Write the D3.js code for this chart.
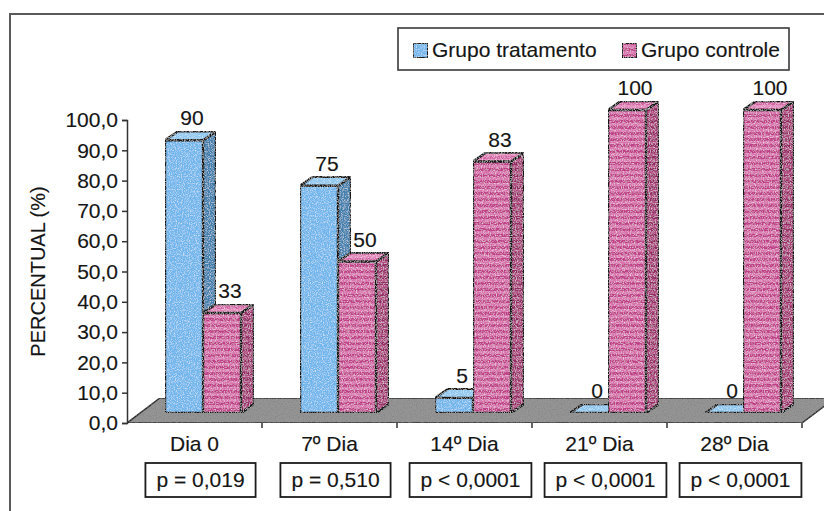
<!DOCTYPE html>
<html>
<head>
<meta charset="utf-8">
<script src="https://cdn.jsdelivr.net/npm/d3@7"></script>
<style>
  html, body { margin: 0; padding: 0; background: #fff; }
  svg { display: block; }
  text { font-family: Arial, "Liberation Sans", sans-serif; fill: #151515; stroke: #151515; stroke-width: 0.15px; }
</style>
</head>
<body>
<svg id="chart" width="824" height="511"></svg>
<script>
// Percent of patients per evaluation day, by group
const categories = ["Dia 0", "7º Dia", "14º Dia", "21º Dia", "28º Dia"];
const tratamento = [90, 75, 5, 0, 0];
const controle = [33, 50, 83, 100, 100];
const pValues = ["p = 0,019", "p = 0,510", "p < 0,0001", "p < 0,0001", "p < 0,0001"];
const seriesNames = ["Grupo tratamento", "Grupo controle"];
const yTicks = [0, 10, 20, 30, 40, 50, 60, 70, 80, 90, 100];

const W = 824, H = 511;
const FS = 21;
const svg = d3.select("#chart");

// ---- defs: grain filters, stripe patterns ----
const defs = svg.append("defs");
function grainFilter(id, tone, seed, gain, bias) {
  const f = defs.append("filter").attr("id", id)
    .attr("x", 0).attr("y", 0).attr("width", 1).attr("height", 1);
  f.append("feTurbulence").attr("type", "fractalNoise")
    .attr("baseFrequency", 0.85).attr("numOctaves", 2).attr("seed", seed).attr("result", "noise");
  f.append("feColorMatrix").attr("in", "noise").attr("type", "matrix")
    .attr("values", `0 0 0 0 ${tone}  0 0 0 0 ${tone}  0 0 0 0 ${tone}  ${gain} 0 0 0 ${bias}`)
    .attr("result", "specks");
  f.append("feComposite").attr("in", "specks").attr("in2", "SourceAlpha")
    .attr("operator", "in").attr("result", "specksIn");
  const m = f.append("feMerge");
  m.append("feMergeNode").attr("in", "SourceGraphic");
  m.append("feMergeNode").attr("in", "specksIn");
}
grainFilter("grain", 1, 4, 1.4, -0.62);
grainFilter("darkGrain", 0.2, 9, 1.6, -0.68);

function stripes(id, a, b) {
  const p = defs.append("pattern").attr("id", id)
    .attr("patternUnits", "userSpaceOnUse").attr("width", 8).attr("height", 6);
  p.append("rect").attr("width", 8).attr("height", 6).attr("fill", a);
  p.append("rect").attr("y", 3).attr("width", 8).attr("height", 3).attr("fill", b);
}
stripes("pinkFront", "#bf3f88", "#d772ad");
stripes("pinkSide", "#952a66", "#b04882");
stripes("pinkTop", "#d463a5", "#e287bb");

const styles = [
  { front: "#6fb5ec", side: "#3f7fae", top: "#8fc7ef", filter: "url(#grain)" },
  { front: "url(#pinkFront)", side: "url(#pinkSide)", top: "url(#pinkTop)", filter: "url(#grain)" }
];

// ---- scales ----
const plotLeft = 127, plotRight = 802, baseY = 423, topY = 120;
const x = d3.scaleBand().domain(categories).range([plotLeft, plotRight]).paddingInner(0).paddingOuter(0);
const y = d3.scaleLinear().domain([0, 100]).range([baseY, topY]);

// oblique projection offsets
const floorDepth = { dx: 33, dy: -25 };
const barFront = { dx: 13, dy: -10 };
const barDepth = { dx: 13, dy: -9 };
const barW = 38;
const groupInset = 25;

// ---- outer frame ----
svg.append("path")
  .attr("d", `M10,${H} L10,14 L${W},14`)
  .attr("fill", "none").attr("stroke", "#5a5a5a").attr("stroke-width", 2);

// ---- floor ----
svg.append("path")
  .attr("d", `M${plotLeft},${baseY} L${plotRight},${baseY} L${plotRight + floorDepth.dx},${baseY + floorDepth.dy} L${plotLeft + floorDepth.dx},${baseY + floorDepth.dy} Z`)
  .attr("fill", "#959595").attr("filter", "url(#darkGrain)")
  .attr("stroke", "#2a2a2a").attr("stroke-width", 1.5).attr("stroke-linejoin", "round");

// ---- y axis ----
const fmt = v => d3.format(".1f")(v).replace(".", ",");
const yAxis = d3.axisLeft(y).tickValues(yTicks).tickFormat(fmt).tickSize(5).tickPadding(4);
const gy = svg.append("g").attr("transform", `translate(${plotLeft},0)`).call(yAxis);
gy.select(".domain").attr("stroke", "#333").attr("stroke-width", 1.5);
gy.selectAll(".tick line").attr("stroke", "#333").attr("stroke-width", 1.5);
gy.selectAll(".tick text").attr("font-size", FS).attr("fill", "#151515")
  .attr("font-family", "Arial, 'Liberation Sans', sans-serif");

svg.append("text")
  .attr("transform", `translate(45,${(topY + baseY) / 2}) rotate(-90)`)
  .attr("text-anchor", "middle").attr("font-size", 20)
  .text("PERCENTUAL (%)");

// ---- category axis ----
const xAxis = d3.axisBottom(x).tickSize(0).tickPadding(13);
const gx = svg.append("g").attr("transform", `translate(0,${baseY})`).call(xAxis);
gx.select(".domain").remove();
gx.selectAll(".tick text").attr("font-size", FS).attr("fill", "#151515")
  .attr("font-family", "Arial, 'Liberation Sans', sans-serif");
// category separators
svg.append("g").selectAll("line")
  .data(categories)
  .join("line")
  .attr("x1", d => x(d) + x.bandwidth())
  .attr("x2", d => x(d) + x.bandwidth())
  .attr("y1", baseY).attr("y2", baseY + 5)
  .attr("stroke", "#333").attr("stroke-width", 1.5);

// ---- bars ----
const series = [tratamento, controle];
const barsG = svg.append("g");
categories.forEach((cat, ci) => {
  series.forEach((vals, si) => {
    const v = vals[ci];
    const st = styles[si];
    const x0 = x(cat) + groupInset + barFront.dx + si * barW;
    const x1 = x0 + barW;
    const yb = y(0) + barFront.dy;
    const yt = y(v) + barFront.dy;
    const g = barsG.append("g")
      .attr("stroke", "#161616").attr("stroke-width", 2.4).attr("stroke-linejoin", "round");
    // side face
    g.append("path")
      .attr("d", `M${x1},${yb} L${x1 + barDepth.dx},${yb + barDepth.dy} L${x1 + barDepth.dx},${yt + barDepth.dy} L${x1},${yt} Z`)
      .attr("fill", st.side).attr("filter", st.filter);
    // top face
    g.append("path")
      .attr("d", `M${x0},${yt} L${x0 + barDepth.dx},${yt + barDepth.dy} L${x1 + barDepth.dx},${yt + barDepth.dy} L${x1},${yt} Z`)
      .attr("fill", st.top).attr("filter", st.filter);
    // front face
    if (yb - yt > 0) {
      g.append("rect")
        .attr("x", x0).attr("y", yt).attr("width", barW).attr("height", yb - yt)
        .attr("fill", st.front).attr("filter", st.filter);
    }
    // value label
    svg.append("text")
      .attr("x", x0 + barW / 2 + 8)
      .attr("y", yt + barDepth.dy - 6)
      .attr("text-anchor", "middle").attr("font-size", FS)
      .text(d3.format("d")(v));
  });
});

// ---- p-value boxes ----
const pG = svg.append("g");
categories.forEach((cat, ci) => {
  const cx = x(cat) + x.bandwidth() / 2 + 6;
  const t = pG.append("text")
    .attr("x", cx).attr("y", 487)
    .attr("text-anchor", "middle").attr("font-size", FS)
    .text(pValues[ci]);
  const w = t.node().getComputedTextLength() + 22;
  pG.insert("rect", "text")
    .attr("x", cx - w / 2).attr("y", 463).attr("width", w).attr("height", 34)
    .attr("fill", "#fff").attr("stroke", "#1c1c1c").attr("stroke-width", 1.8);
});

// ---- legend ----
const lg = svg.append("g");
lg.append("rect").attr("x", 398).attr("y", 28).attr("width", 391).attr("height", 42)
  .attr("fill", "#fff").attr("stroke", "#3a3a3a").attr("stroke-width", 1.6);
const legendX = [413, 622];
seriesNames.forEach((name, i) => {
  lg.append("rect").attr("x", legendX[i]).attr("y", 43).attr("width", 15).attr("height", 15)
    .attr("fill", styles[i].front).attr("stroke", "#1c1c1c").attr("stroke-width", 2)
    .attr("filter", styles[i].filter);
  lg.append("text").attr("x", legendX[i] + 19).attr("y", 57)
    .attr("font-size", FS).text(name);
});
</script>
</body>
</html>
